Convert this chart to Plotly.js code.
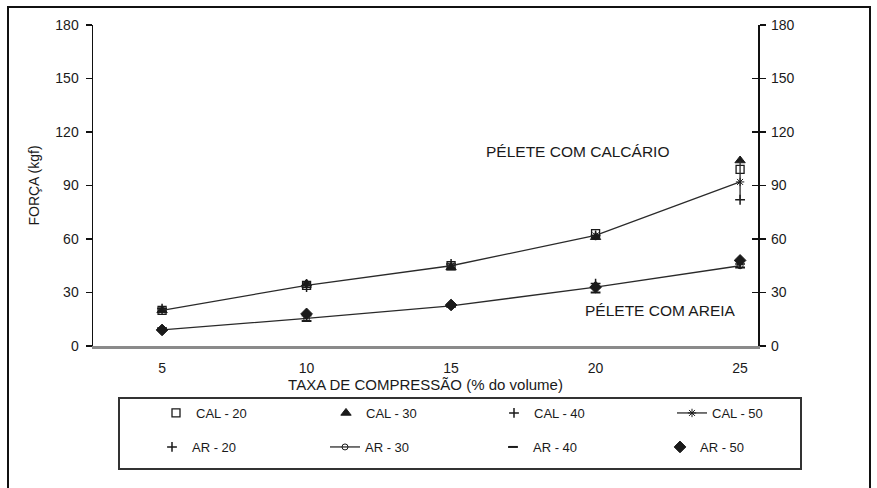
<!DOCTYPE html>
<html>
<head>
<meta charset="utf-8">
<script src="https://cdn.plot.ly/plotly-3.0.1.min.js"></script>
<style>html,body{margin:0;padding:0;background:#fff;}#chart{width:877px;height:488px;}</style>
</head>
<body>
<div id="chart"></div>
<script>
// ---- data ----
var taxa = [5, 10, 15, 20, 25];
var xTickLabels = ['5', '10', '15', '20', '25'];
var yTicks = [0, 30, 60, 90, 120, 150, 180];

var cal20 = [20, 34, 45, 63, 99];
var cal30 = [20, 35, 44, 61, 104];
var cal40 = [21, 33, 46, 62, 82];
var cal50 = [20, 34, 45, 62, 92];
var cal50ErrPlus = [0, 1, 1, 2, 12];
var cal50ErrMinus = [0, 1, 1, 2, 10];

var ar20 = [9, 17, 23, 35, 46];
var ar30 = [9, 15.5, 22.5, 33, 45];
var ar40 = [10, 14, 22, 30, 44];
var ar50 = [9, 18, 23, 33, 48];
var ar30ErrPlus = [0, 2, 1, 3, 2];
var ar30ErrMinus = [0, 2, 1, 3, 1];

var seriesNames = ['CAL - 20', 'CAL - 30', 'CAL - 40', 'CAL - 50', 'AR - 20', 'AR - 30', 'AR - 40', 'AR - 50'];
var labelCal = 'PÉLETE COM CALCÁRIO';
var labelAr = 'PÉLETE COM AREIA';

// ---- layout geometry (px) ----
var W = 877, H = 488;
var M = {l: 93, r: 119, t: 25, b: 142};
var PW = W - M.l - M.r, PH = H - M.t - M.b;
function px(xp) { return (xp - M.l) / PW; }
function py(yp) { return (M.t + PH - yp) / PH; }

var FONT = 'Liberation Sans, Arial, sans-serif';
var INK = '#1a1a1a';

var legendPos = [
  [156, 398], [326, 398], [494, 398], [672, 398],
  [152, 432], [325, 432], [493, 432], [660, 432]
];

function mk(name, y, opts, idx) {
  var t = {
    x: taxa, y: y, name: name, type: 'scatter',
    mode: opts.mode || 'markers',
    marker: {symbol: opts.symbol, size: opts.size || 7, color: INK,
             line: {color: INK, width: opts.lw || 1}},
    line: {color: '#2a2a2a', width: 1.3},
    legend: idx === 0 ? 'legend' : 'legend' + (idx + 1),
    yaxis: opts.yaxis || 'y',
    cliponaxis: false,
    hoverinfo: 'x+y+name'
  };
  if (opts.err) t.error_y = {type: 'data', symmetric: false, array: opts.err[0], arrayminus: opts.err[1],
                              color: '#2a2a2a', thickness: 1.3, width: 0};
  return t;
}

var data = [
  mk(seriesNames[0], cal20, {symbol: 'square-open', size: 8, lw: 1.3}, 0),
  mk(seriesNames[1], cal30, {symbol: 'triangle-up', size: 9}, 1),
  mk(seriesNames[2], cal40, {symbol: 'cross-thin-open', size: 7, lw: 1.5}, 2),
  mk(seriesNames[3], cal50, {symbol: 'asterisk-open', size: 7, mode: 'lines+markers', err: [cal50ErrPlus, cal50ErrMinus]}, 3),
  mk(seriesNames[4], ar20, {symbol: 'cross-thin-open', size: 7, lw: 1.5, yaxis: 'y2'}, 4),
  mk(seriesNames[5], ar30, {symbol: 'circle-open', size: 6, mode: 'lines+markers', err: [ar30ErrPlus, ar30ErrMinus], yaxis: 'y2'}, 5),
  mk(seriesNames[6], ar40, {symbol: 'line-ew-open', size: 7, lw: 2, yaxis: 'y2'}, 6),
  mk(seriesNames[7], ar50, {symbol: 'diamond', size: 9, yaxis: 'y2'}, 7)
];

var layout = {
  width: W, height: H,
  margin: M,
  paper_bgcolor: '#fff', plot_bgcolor: '#fff',
  font: {family: FONT, size: 14, color: INK},
  showlegend: true,
  xaxis: {
    range: [2.61, 25.62], tickvals: taxa, ticktext: xTickLabels,
    showgrid: false, zeroline: false, showline: true, linecolor: '#8a8a8a', linewidth: 2.5,
    ticks: '', ticklabelstandoff: 8,
    tickfont: {size: 14, color: INK},
    title: {text: 'TAXA DE COMPRESSÃO (% do volume)', font: {size: 15, color: INK}, standoff: 0}
  },
  yaxis: {
    range: [0, 180], tickvals: yTicks,
    showgrid: false, zeroline: false, showline: true, linecolor: '#111', linewidth: 1.5,
    mirror: 'ticks', ticks: 'outside', ticklen: 6, tickcolor: '#111', tickwidth: 1.2,
    ticklabelstandoff: 4,
    tickfont: {size: 14, color: INK},
    title: {text: 'FORÇA (kgf)', font: {size: 14, color: INK}, standoff: 12}
  },
  yaxis2: {
    range: [0, 180], tickvals: yTicks, overlaying: 'y', side: 'right',
    showgrid: false, zeroline: false, showline: false,
    ticks: 'inside', ticklen: 6, tickcolor: '#111', tickwidth: 1.2,
    ticklabelstandoff: 12,
    tickfont: {size: 14, color: INK}
  },
  annotations: [
    {xref: 'x', yref: 'y', x: 19.39, y: 109.3, text: labelCal, showarrow: false,
     font: {size: 15.5, color: INK}},
    {xref: 'x', yref: 'y', x: 22.23, y: 19.9, text: labelAr, showarrow: false,
     font: {size: 15.5, color: INK}}
  ],
  shapes: [
    {type: 'rect', xref: 'paper', yref: 'paper', x0: px(8), x1: px(870), y0: py(7), y1: py(492),
     line: {color: '#111', width: 2}, fillcolor: 'rgba(0,0,0,0)', layer: 'above'},
    {type: 'rect', xref: 'paper', yref: 'paper', x0: px(119), x1: px(801), y0: py(398), y1: py(469),
     line: {color: '#333', width: 2}, fillcolor: 'rgba(0,0,0,0)', layer: 'above'}
  ]
};

legendPos.forEach(function (p, i) {
  var key = i === 0 ? 'legend' : 'legend' + (i + 1);
  layout[key] = {
    x: px(p[0]), y: py(p[1]), xanchor: 'left', yanchor: 'top',
    orientation: 'h', bgcolor: 'rgba(0,0,0,0)', borderwidth: 0,
    font: {size: 13, color: INK, family: FONT}
  };
});

Plotly.newPlot('chart', data, layout, {displayModeBar: false, staticPlot: true});
</script>
</body>
</html>
